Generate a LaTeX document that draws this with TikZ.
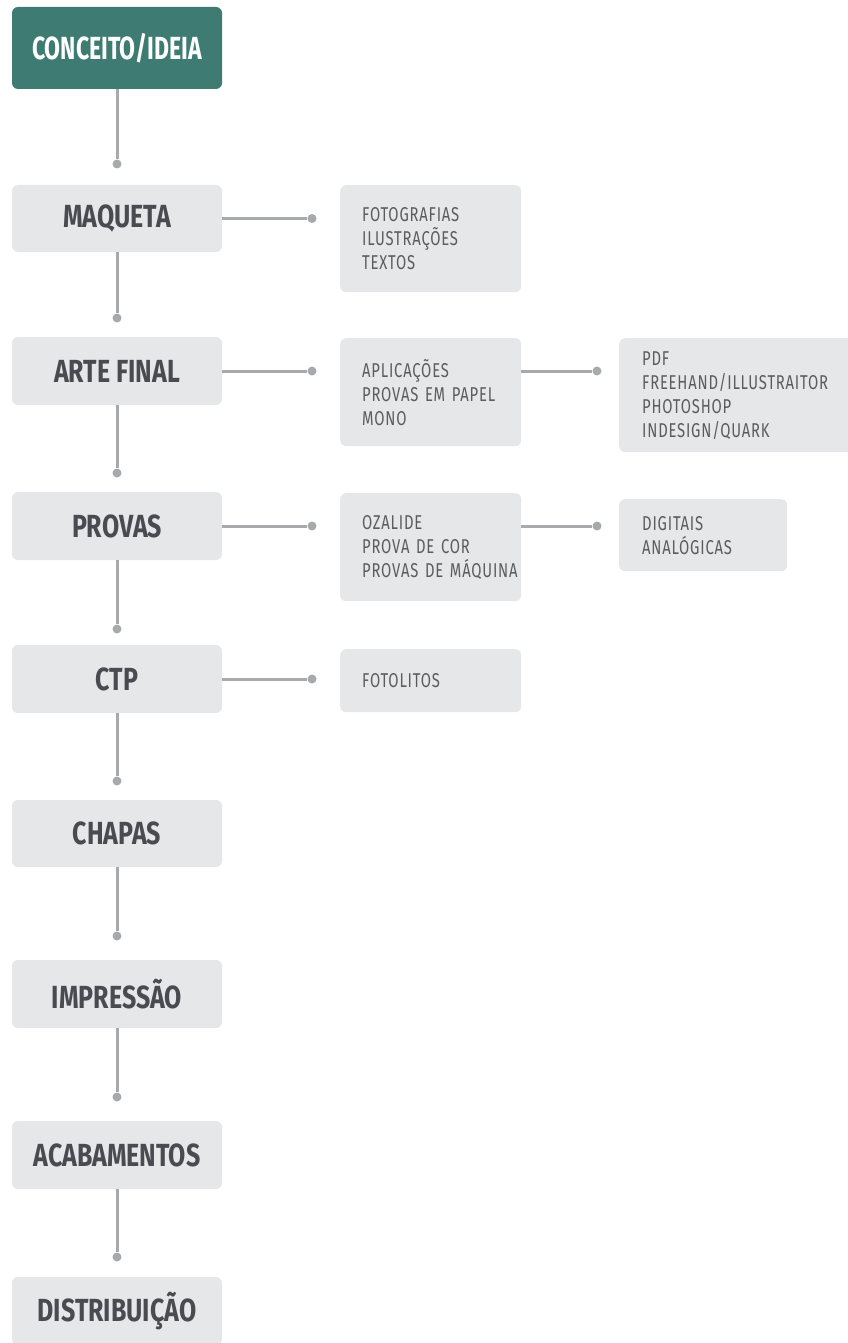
\documentclass[tikz,border=0pt]{standalone}
\usepackage{fontspec}
\newfontfamily\stepfont[FakeStretch=0.78]{Fira Sans}
\newfontfamily\startfont[FakeStretch=0.72]{Fira Sans}
\newfontfamily\itemfont[FakeStretch=0.74,LetterSpace=4]{Fira Sans}
\definecolor{teal}{HTML}{3E7B73}
\definecolor{boxgray}{HTML}{E6E7E8}
\definecolor{linegray}{HTML}{A7A9AC}
\definecolor{steptext}{HTML}{4A4B51}
\definecolor{itemtext}{HTML}{5B5C60}
\begin{document}
\begin{tikzpicture}[x=1pt,y=-1pt,
  stepbox/.style={fill=boxgray, rounded corners=6pt, minimum width=210pt,
    minimum height=67pt, inner sep=0pt, text=steptext,
    font=\stepfont\bfseries\fontsize{32}{32}\selectfont},
  startbox/.style={stepbox, fill=teal, text=white, minimum height=82pt,
    font=\startfont\bfseries\fontsize{32}{32}\selectfont},
  itembox/.style={fill=boxgray, rounded corners=6pt, anchor=north west,
    inner xsep=22pt, inner ysep=0pt, align=left, text=itemtext,
    font=\itemfont\fontsize{20}{24}\selectfont},
  conn/.style={draw=linegray, line width=3pt},
  dot/.style={circle, fill=linegray, inner sep=0pt, minimum size=9pt}
]
\useasboundingbox (0,0) rectangle (848,1343);

% main sequence of steps
\node[startbox] (concept) at (117,48) {CONCEITO/IDEIA};
\node[stepbox] (maqueta) at (117,218.5) {MAQUETA};
\node[stepbox, minimum height=68pt] (arte) at (117,371) {ARTE FINAL};
\node[stepbox, minimum height=68pt] (provas) at (117,526) {PROVAS};
\node[stepbox, minimum height=68pt] (ctp) at (117,679) {CTP};
\node[stepbox] (chapas) at (117,833.5) {CHAPAS};
\node[stepbox, minimum height=68pt] (impressao) at (117,994) {IMPRESSÃO};
\node[stepbox, minimum height=68pt] (acab) at (117,1155) {ACABAMENTOS};
\node[stepbox, minimum height=68pt] (distrib) at (117,1311) {DISTRIBUIÇÃO};

% dots ending the vertical links
\node[dot] (v1) at (117,164) {};
\node[dot] (v2) at (117,318) {};
\node[dot] (v3) at (117,473) {};
\node[dot] (v4) at (117,629) {};
\node[dot] (v5) at (117,781) {};
\node[dot] (v6) at (117,936) {};
\node[dot] (v7) at (117,1097) {};
\node[dot] (v8) at (117,1257) {};

\draw[conn] (concept) -- (v1);
\draw[conn] (maqueta) -- (v2);
\draw[conn] (arte) -- (v3);
\draw[conn] (provas) -- (v4);
\draw[conn] (ctp) -- (v5);
\draw[conn] (chapas) -- (v6);
\draw[conn] (impressao) -- (v7);
\draw[conn] (acab) -- (v8);

% detail boxes
\node[itembox, text width=137pt, minimum height=107pt] (fotog) at (340,185)
  {FOTOGRAFIAS\\ILUSTRAÇÕES\\TEXTOS};
\node[itembox, text width=137pt, minimum height=108pt] (aplic) at (340,338)
  {APLICAÇÕES\\\mbox{PROVAS EM PAPEL}\\MONO};
\node[itembox, text width=137pt, minimum height=108pt] (ozal) at (340,493)
  {OZALIDE\\PROVA DE COR\\\mbox{PROVAS DE MÁQUINA}};
\node[itembox, text width=137pt, minimum height=63pt] (fotol) at (340,649)
  {FOTOLITOS};
\node[itembox, inner xsep=23pt, text width=200pt, minimum height=114pt] (pdf) at (619,338)
  {PDF\\FREEHAND/ILLUSTRAITOR\\PHOTOSHOP\\INDESIGN/QUARK};
\node[itembox, inner xsep=23pt, text width=122pt, minimum height=72pt] (digit) at (619,499)
  {DIGITAIS\\ANALÓGICAS};

% horizontal links
\node[dot] (h1) at (312,218.5) {};
\node[dot] (h2) at (312,371) {};
\node[dot] (h3) at (312,526) {};
\node[dot] (h4) at (312,679) {};
\node[dot] (h5) at (597,371) {};
\node[dot] (h6) at (597,526) {};

\draw[conn] (maqueta) -- (h1);
\draw[conn] (arte) -- (h2);
\draw[conn] (provas) -- (h3);
\draw[conn] (ctp) -- (h4);
\draw[conn] (aplic.east |- h5) -- (h5);
\draw[conn] (ozal.east |- h6) -- (h6);
\end{tikzpicture}
\end{document}
